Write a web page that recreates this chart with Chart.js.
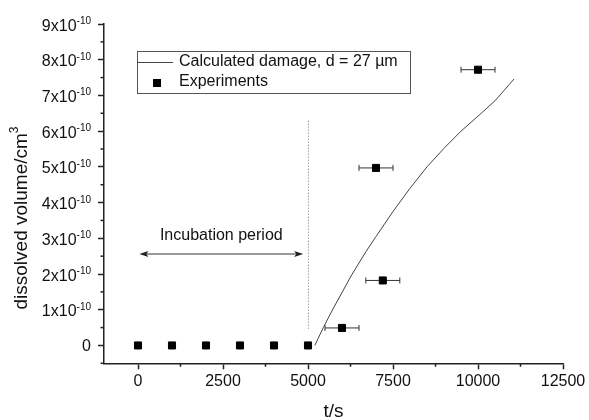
<!DOCTYPE html>
<html>
<head>
<meta charset="utf-8">
<script src="https://cdn.jsdelivr.net/npm/chart.js@4.4.1/dist/chart.umd.min.js"></script>
<style>
  html, body { margin: 0; padding: 0; background: #fff; }
  canvas { display: block; }
</style>
</head>
<body>
<canvas id="canvas" width="589" height="420"></canvas>
<script>
// experiments: time (s), dissolved volume (cm3), horizontal error (s)
const expT = [0, 1000, 2000, 3000, 4000, 5000, 6000, 7000, 7200, 10000];
const expV = [0, 0, 0, 0, 0, 0, 0.49e-10, 4.97e-10, 1.82e-10, 7.72e-10];
const expErr = [0, 0, 0, 0, 0, 0, 500, 500, 500, 500];

// calculated damage curve
const calcT = [5200, 5450, 5750, 6300, 6700, 7000, 7500, 8000, 8500, 9000, 9500, 10000, 10500, 11060];
const calcV = [0, 0.5e-10, 1.05e-10, 2.0e-10, 2.62e-10, 3.05e-10, 3.75e-10, 4.4e-10, 5.0e-10, 5.52e-10, 6.0e-10, 6.42e-10, 6.85e-10, 7.46e-10];

const xTicks = [0, 2500, 5000, 7500, 10000, 12500];
const yMant = [0, 1, 2, 3, 4, 5, 6, 7, 8, 9];
const yExp = '-10';

// incubation annotation
const incubEnd = 5000;
const incubLine = [0.47e-10, 6.3e-10];
const arrowX = [40, 4860];
const arrowY = 2.56e-10;
const incubText = 'Incubation period';
const incubTextPos = [2450, 3.07e-10];

const FONT = "'Liberation Sans', Arial, sans-serif";
Chart.defaults.font.family = FONT;

const data = {
  datasets: [
    {
      label: 'Calculated damage, d = 27 \u00b5m',
      data: calcT.map((t, i) => ({x: t, y: calcV[i]})),
      showLine: true,
      borderColor: '#444',
      borderWidth: 1,
      pointRadius: 0,
      tension: 0
    },
    {
      label: 'Experiments',
      data: expT.map((t, i) => ({x: t, y: expV[i]})),
      showLine: false,
      pointStyle: 'rect',
      pointRadius: 5,
      pointBorderWidth: 1,
      backgroundColor: '#000',
      borderColor: '#000'
    }
  ]
};

function line(ctx, x0, y0, x1, y1) {
  ctx.beginPath(); ctx.moveTo(x0, y0); ctx.lineTo(x1, y1); ctx.stroke();
}

const extras = {
  id: 'extras',
  beforeDatasetsDraw(chart) {
    const {ctx, scales: {x, y}} = chart;
    ctx.save();
    // error bars
    ctx.strokeStyle = '#333';
    ctx.lineWidth = 1;
    expT.forEach((t, i) => {
      if (!expErr[i]) return;
      const py = y.getPixelForValue(expV[i]);
      const x0 = x.getPixelForValue(t - expErr[i]);
      const x1 = x.getPixelForValue(t + expErr[i]);
      line(ctx, x0, py, x1, py);
      line(ctx, x0, py - 3, x0, py + 3);
      line(ctx, x1, py - 3, x1, py + 3);
    });
    // dotted end of incubation
    ctx.strokeStyle = '#777';
    ctx.setLineDash([1, 2]);
    const dx = Math.round(x.getPixelForValue(incubEnd)) + 0.5;
    line(ctx, dx, y.getPixelForValue(incubLine[0]), dx, y.getPixelForValue(incubLine[1]));
    ctx.setLineDash([]);
    // double arrow
    const ay = y.getPixelForValue(arrowY);
    const ax0 = x.getPixelForValue(arrowX[0]), ax1 = x.getPixelForValue(arrowX[1]);
    ctx.strokeStyle = '#333';
    line(ctx, ax0 + 4, ay, ax1 - 4, ay);
    ctx.fillStyle = '#222';
    ctx.beginPath();
    ctx.moveTo(ax0, ay); ctx.lineTo(ax0 + 9, ay - 3); ctx.lineTo(ax0 + 7, ay); ctx.lineTo(ax0 + 9, ay + 3); ctx.closePath();
    ctx.moveTo(ax1, ay); ctx.lineTo(ax1 - 9, ay - 3); ctx.lineTo(ax1 - 7, ay); ctx.lineTo(ax1 - 9, ay + 3); ctx.closePath();
    ctx.fill();
    ctx.font = '16px ' + FONT;
    ctx.fillStyle = '#111';
    ctx.textAlign = 'center';
    ctx.textBaseline = 'middle';
    ctx.fillText(incubText, x.getPixelForValue(incubTextPos[0]), y.getPixelForValue(incubTextPos[1]));
    ctx.restore();
  },
  afterDraw(chart) {
    const {ctx, scales: {x, y}, chartArea} = chart;
    ctx.save();
    ctx.strokeStyle = '#222';
    ctx.lineWidth = 1.5;
    // minor ticks
    for (let i = 0; i < xTicks.length - 1; i++) {
      const px = x.getPixelForValue((xTicks[i] + xTicks[i + 1]) / 2);
      line(ctx, px, chartArea.bottom, px, chartArea.bottom + 3.5);
    }
    for (let i = 0; i < yMant.length; i++) {
      const py = y.getPixelForValue((yMant[i] - 0.5) * 1e-10);
      line(ctx, chartArea.left - 3.5, py, chartArea.left, py);
    }
    // y tick labels with superscript
    ctx.fillStyle = '#111';
    ctx.textBaseline = 'alphabetic';
    const right = 91;
    yMant.forEach(m => {
      const py = y.getPixelForValue(m * 1e-10);
      ctx.textAlign = 'right';
      if (m === 0) {
        ctx.font = '16px ' + FONT;
        ctx.fillText('0', right, py + 6);
        return;
      }
      ctx.font = '10px ' + FONT;
      const sw = ctx.measureText(yExp).width;
      ctx.fillText(yExp, right, py);
      ctx.font = '16px ' + FONT;
      ctx.fillText(m + 'x10', right - sw, py + 6.5);
    });
    // axis titles
    ctx.font = '19px ' + FONT;
    ctx.textAlign = 'center';
    ctx.fillText('t/s', (chartArea.left + chartArea.right) / 2, 417);
    ctx.save();
    ctx.translate(27, 218);
    ctx.rotate(-Math.PI / 2);
    const base = 'dissolved volume/cm';
    const bw = ctx.measureText(base).width;
    ctx.font = '12px ' + FONT;
    const sw3 = ctx.measureText('3').width;
    const start = -(bw + sw3) / 2;
    ctx.textAlign = 'left';
    ctx.fillText('3', start + bw, -9);
    ctx.font = '19px ' + FONT;
    ctx.fillText(base, start, 0);
    ctx.restore();
    // legend box
    const ds = chart.data.datasets;
    ctx.lineWidth = 1;
    ctx.strokeStyle = '#555';
    ctx.strokeRect(137.5, 51.5, 273, 42);
    ctx.strokeStyle = ds[0].borderColor;
    line(ctx, 137.5, 62.5, 173, 62.5);
    ctx.fillStyle = '#000';
    ctx.fillRect(153, 79, 8, 8);
    ctx.fillStyle = '#111';
    ctx.font = '16px ' + FONT;
    ctx.textAlign = 'left';
    ctx.textBaseline = 'middle';
    ctx.fillText(ds[0].label, 179, 62);
    ctx.fillText(ds[1].label, 179, 82);
    ctx.restore();
  }
};

const config = {
  type: 'scatter',
  data: data,
  options: {
    responsive: false,
    animation: false,
    devicePixelRatio: 1,
    layout: { padding: { left: 0, right: 26, top: 24, bottom: 0 } },
    plugins: { legend: { display: false }, tooltip: { enabled: false } },
    scales: {
      x: {
        type: 'linear',
        min: -1000,
        max: 12500,
        afterBuildTicks: s => { s.ticks = xTicks.map(v => ({value: v})); },
        afterFit: s => { s.height = 56.7; },
        ticks: { font: { size: 16 }, color: '#111', padding: 3, maxRotation: 0, callback: v => String(v) },
        grid: { drawOnChartArea: false, drawTicks: true, tickLength: 6, tickColor: '#222', tickWidth: 1.5 },
        border: { color: '#222', width: 1.5 }
      },
      y: {
        type: 'linear',
        min: -0.5e-10,
        max: 9e-10,
        afterBuildTicks: s => { s.ticks = yMant.map(m => ({value: m * 1e-10})); },
        afterFit: s => { s.width = 104; },
        ticks: { display: false },
        grid: { drawOnChartArea: false, drawTicks: true, tickLength: 6, tickColor: '#222', tickWidth: 1.5 },
        border: { color: '#222', width: 1.5 }
      }
    }
  },
  plugins: [extras]
};

const canvas = document.getElementById('canvas');
const chart = new Chart(canvas, config);
</script>
</body>
</html>
